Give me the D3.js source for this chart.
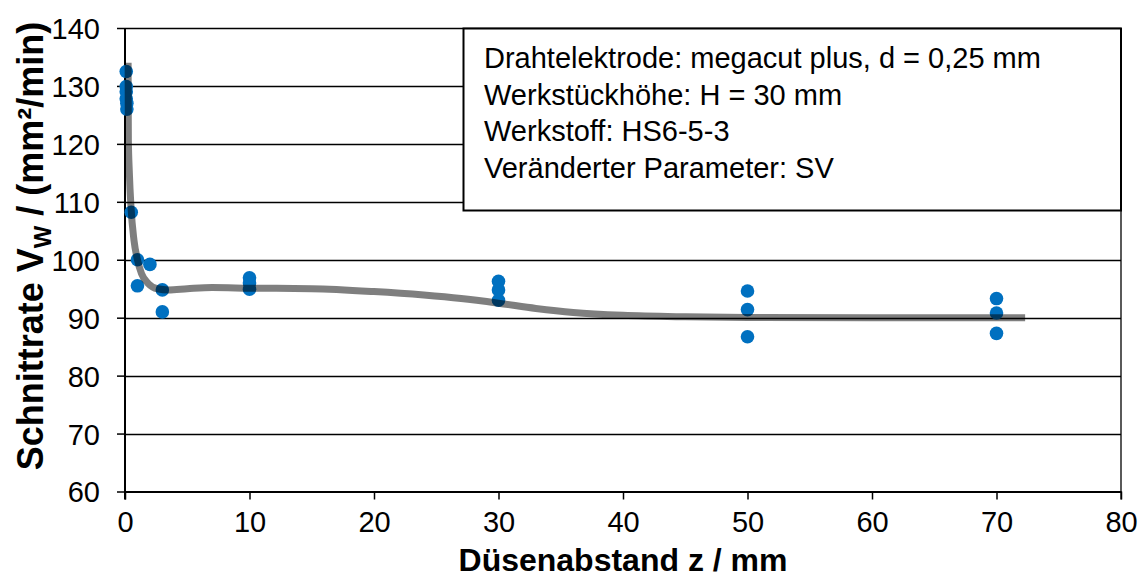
<!DOCTYPE html>
<html><head><meta charset="utf-8">
<script src="https://cdn.jsdelivr.net/npm/d3@7"></script>
<style>body{margin:0;background:#fff}svg{display:block}text{font-family:"Liberation Sans",Arial,sans-serif}</style>
</head><body>
<svg id="c" width="1139" height="580"></svg>
<script>
const xTicks = [0,10,20,30,40,50,60,70,80];
const yTicks = [60,70,80,90,100,110,120,130,140];
const pointX = [0.1,0.1,0.1,0.1,0.15,0.15,0.5,1,1,2,3,3,10,10,10,30,30,30,50,50,50,70,70,70];
const pointY = [132.5,129.9,129.0,127.8,127.0,126.0,108.2,100.0,95.5,99.2,94.8,91.0,96.9,96.0,94.9,96.3,94.8,93.0,94.6,91.4,86.7,93.3,90.8,87.3];
const trendX = [0.25,0.27,0.35,0.48,0.72,1.0,1.33,1.87,2.6,3.5,5,7,10,15,20,24,27,30,33,36,40,45,50,60,72.3];
const trendY = [134,120.7,115,109.1,103.4,100,97.6,95.9,95.0,94.8,95.0,95.2,95.1,95.0,94.5,93.9,93.3,92.5,91.6,90.9,90.4,90.15,90.05,90,90];
const infoLines = ["Drahtelektrode: megacut plus, d = 0,25 mm","Werkstückhöhe: H = 30 mm","Werkstoff: HS6-5-3","Veränderter Parameter: SV"];

const svg = d3.select("#c");
const x = d3.scaleLinear().domain([0,80]).range([125,1121]);
const y = d3.scaleLinear().domain([60,140]).range([491.5,28]);

// gridlines
svg.append("g").selectAll("line").data(yTicks.filter(d=>d>60)).join("line")
  .attr("x1",x(0)).attr("x2",x(80)).attr("y1",d=>Math.round(y(d))+0.5).attr("y2",d=>Math.round(y(d))+0.5)
  .attr("stroke","#000").attr("stroke-width",1.3);
// right border
svg.append("line").attr("x1",x(80)).attr("x2",x(80)).attr("y1",y(140)).attr("y2",y(60)+8)
  .attr("stroke","#000").attr("stroke-width",1.3);

// axes
const xAxis = d3.axisBottom(x).tickValues(xTicks).tickSize(8).tickPadding(12).tickSizeOuter(0);
const gx = svg.append("g").attr("transform",`translate(0,${y(60)})`).call(xAxis);
const yAxis = d3.axisLeft(y).tickValues(yTicks).tickSize(8).tickPadding(17).tickSizeOuter(0);
const gy = svg.append("g").attr("transform",`translate(${x(0)},0)`).call(yAxis);
[gx,gy].forEach(g=>{
  g.attr("font-size",null).attr("font-family",null);
  g.select(".domain").attr("stroke","#000").attr("stroke-width",2);
  g.selectAll(".tick line").attr("stroke","#000").attr("stroke-width",1.5);
  g.selectAll(".tick text").attr("fill","#000").style("font-size","29px");
});
gy.selectAll(".tick text").attr("dy","0.36em");
gy.select(".domain").attr("d",`M0,${y(140)}V${y(60)+8}`);

// points
svg.append("g").selectAll("circle").data(pointX.map((v,i)=>[v,pointY[i]])).join("circle")
  .attr("cx",d=>x(d[0])).attr("cy",d=>y(d[1])).attr("r",6.8).attr("fill","#0070c0");

// trend line
const line = d3.line().x(d=>x(d[0])).y(d=>y(d[1])).curve(d3.curveMonotoneX);
svg.append("path").datum(trendX.map((v,i)=>[v,trendY[i]])).attr("d",line)
  .attr("fill","none").attr("stroke","#000").attr("stroke-opacity",0.5).attr("stroke-width",7);

// info box
svg.append("rect").attr("x",463.5).attr("y",28.5).attr("width",x(80)-463.5).attr("height",182)
  .attr("fill","#fff").attr("stroke","#000").attr("stroke-width",2);
svg.append("g").selectAll("text").data(infoLines).join("text")
  .attr("x",484).attr("y",(d,i)=>68+i*36.5).style("font-size","29px").attr("fill","#000").text(d=>d);

// axis titles
svg.append("text").attr("x",(x(0)+x(80))/2).attr("y",571).attr("text-anchor","middle")
  .style("font-size","32px").style("font-weight","bold").text("Düsenabstand z / mm");
const yt = svg.append("text").attr("transform","translate(43,246) rotate(-90)").attr("text-anchor","middle")
  .style("font-size","36px").style("font-weight","bold");
yt.append("tspan").text("Schnittrate V");
yt.append("tspan").attr("dy",8).style("font-size","24px").text("W");
yt.append("tspan").attr("dy",-8).text(" / (mm²/min)");
</script>
</body></html>
